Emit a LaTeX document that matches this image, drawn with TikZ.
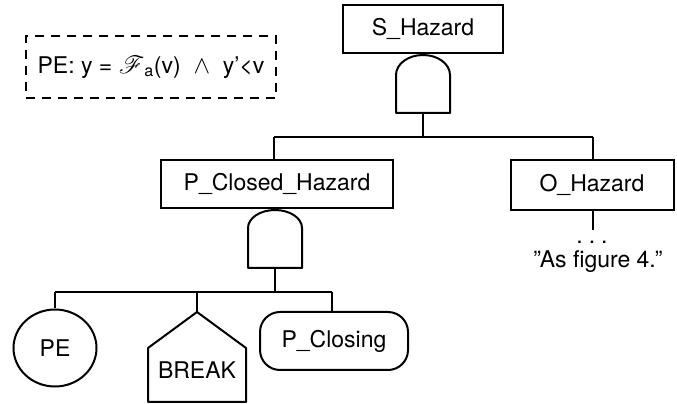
\documentclass[tikz,border=0pt]{standalone}
\usepackage{fontspec}
\setmainfont{TeX Gyre Heros}
\usepackage{mathrsfs}
\usetikzlibrary{shapes.geometric}
\begin{document}
\begin{tikzpicture}[x=1pt,y=1pt,
  every node/.style={font=\fontsize{23}{27}\selectfont, inner sep=0pt},
  evtbox/.style={draw, line width=2pt, minimum width=#1, minimum height=48pt},
  link/.style={line width=2pt},
  gateline/.style={line width=2pt, line join=round}]
\useasboundingbox (0,0) rectangle (677,404);

% predicate note
\node[draw, dashed, dash pattern=on 9pt off 7pt, line width=2pt,
      minimum width=250pt, minimum height=62pt] (note) at (151,337)
  {PE: y = $\mathscr{F}$\textsubscript{a}(v) \ $\wedge$ \ y’<v};

% top event and its AND gate
\node[evtbox=160pt] (top) at (423,375) {S\_Hazard};
\draw[gateline] (396,291) -- (396,329)
  arc[start angle=180, end angle=0, x radius=27pt, y radius=20pt]
  -- (450,291) -- cycle;
\coordinate (g1top) at (423,349);
\coordinate (g1out) at (423,291);
\coordinate (bus1) at (423,267);

% intermediate events
\node[evtbox=232pt] (pch) at (277,220) {P\_Closed\_Hazard};
\node[evtbox=163pt, minimum height=50pt] (oh) at (592,219) {O\_Hazard};
\coordinate (bus1l) at (274,267);
\coordinate (bus1r) at (593,267);

\draw[link] (top.south) -- (g1top);
\draw[link] (g1out) -- (bus1);
\draw[link] (bus1l) -- (bus1r);
\draw[link] (bus1l) -- (bus1l |- pch.north);
\draw[link] (bus1r) -- (bus1r |- oh.north);

% continuation below O_Hazard
\coordinate (ohend) at (593,174);
\draw[link] (bus1r |- oh.south) -- (ohend);
\node (dots) at (592,162) {.\hspace{6pt}.\hspace{6pt}.};
\node (asfig) at (598,142) {”As figure 4.”};

% AND gate under P_Closed_Hazard
\draw[gateline] (248,136) -- (248,176)
  arc[start angle=180, end angle=0, x radius=27pt, y radius=18pt]
  -- (302,136) -- cycle;
\coordinate (g2top) at (275,194);
\coordinate (g2out) at (275,136);
\coordinate (bus2) at (275,112);
\draw[link] (pch.south -| g2top) -- (g2top);
\draw[link] (g2out) -- (bus2);

% basic events
\node[draw, ellipse, line width=2pt, minimum width=83pt, minimum height=77pt] (pe) at (55,56) {PE};
\draw[gateline] (197,92) -- (246,56) -- (246,2) -- (148,2) -- (148,56) -- cycle;
\coordinate (brk) at (197,92);
\node (brklabel) at (197,34) {BREAK};
\node[draw, rounded corners=20pt, line width=2pt, minimum width=148pt, minimum height=58pt] (pc) at (334,63) {P\_Closing};

\coordinate (bus2l) at (55,112);
\coordinate (bus2r) at (332,112);
\draw[link] (bus2l) -- (bus2r);
\draw[link] (bus2l) -- (pe.north);
\draw[link] (bus2l -| brk) -- (brk);
\draw[link] (bus2r) -- (bus2r |- pc.north);
\end{tikzpicture}
\end{document}
